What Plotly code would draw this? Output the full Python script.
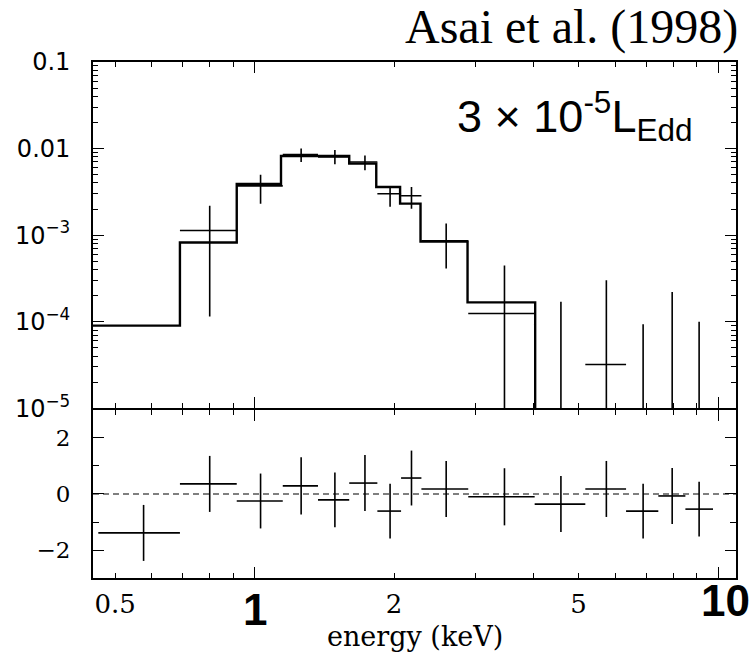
import math
import plotly.graph_objects as go
from plotly.subplots import make_subplots

# ---------------- data ----------------
# energy bins (keV)
bin_lo = [0.46, 0.69, 0.915, 1.15, 1.37, 1.60, 1.84, 2.07, 2.29, 2.89, 4.02, 5.17, 6.33, 7.43, 8.50]
bin_hi = [0.69, 0.915, 1.15, 1.37, 1.60, 1.84, 2.07, 2.29, 2.89, 4.02, 5.17, 6.33, 7.43, 8.50, 9.75]
bin_center = [0.576, 0.80, 1.03, 1.26, 1.49, 1.73, 1.96, 2.18, 2.59, 3.46, 4.58, 5.74, 6.89, 7.96, 9.10]

# model (step histogram), counts/s/keV
model_edges = [0.44, 0.69, 0.915, 1.14, 1.60, 1.83, 2.06, 2.28, 2.88, 4.03, 11.0]
model_flux = [9.0e-5, 8.2e-4, 3.9e-3, 8.2e-3, 6.7e-3, 3.6e-3, 2.31e-3, 8.4e-4, 1.67e-4, 1e-7]

# observed spectrum (bins 2..15); None = below the plotted range
flux = [1.13e-3, 3.7e-3, 8.5e-3, 8.0e-3, 7.0e-3, 3.0e-3, 2.85e-3, 8.6e-4, 1.24e-4,
        None, 3.2e-5, None, None, None]
flux_hi = [2.19e-3, 4.97e-3, 1.0e-2, 9.6e-3, 8.3e-3, 3.7e-3, 3.6e-3, 1.36e-3, 4.45e-4,
           1.7e-4, 3.0e-4, 9.3e-5, 2.2e-4, 1.0e-4]
flux_lo = [1.15e-4, 2.3e-3, 7.0e-3, 6.6e-3, 5.6e-3, 2.13e-3, 2.02e-3, 4.1e-4, None,
           None, None, None, None, None]

# residuals (sigma)
resid = [-1.39, 0.36, -0.25, 0.29, -0.21, 0.39, -0.61, 0.57, 0.18, -0.10, -0.36, 0.18, -0.61, -0.07, -0.54]
resid_err = [1.0, 1.0, 0.98, 1.02, 0.98, 1.0, 0.98, 0.98, 1.0, 1.02, 1.0, 1.0, 0.98, 1.0, 0.98]

# axis ticks
x_minor_ticks = [0.5, 0.6, 0.7, 0.8, 0.9, 2, 3, 4, 5, 6, 7, 8, 9]
x_minor_text = ["0.5", "", "", "", "", "2", "", "", "5", "", "", "", ""]
x_major_ticks = [1, 10]
y_decades = [1e-5, 1e-4, 1e-3, 1e-2, 1e-1]
y_decade_text = ["10<sup>−5</sup>", "10<sup>−4</sup>", "10<sup>−3</sup>", "0.01", "0.1"]
y_minor_ticks = [m * d for d in [1e-5, 1e-4, 1e-3, 1e-2] for m in range(2, 10)]
r_major_ticks = [-2, 0, 2]
r_minor_ticks = [-3, -1, 1, 3]

FLOOR = 1e-8  # below the plotted range (error bar runs off the bottom)

# ---------------- build figure ----------------
fig = make_subplots(rows=2, cols=1, shared_xaxes=True, vertical_spacing=0,
                    row_heights=[0.674, 0.326])

# model histogram
fig.add_trace(go.Scatter(x=model_edges, y=model_flux + [model_flux[-1]], mode="lines",
                         line=dict(shape="hv", color="black", width=2.4),
                         hoverinfo="skip", showlegend=False), row=1, col=1)

# data crosses
xs, ys = [], []
for lo, hi, c, v, eh, el in zip(bin_lo[1:], bin_hi[1:], bin_center[1:], flux, flux_hi, flux_lo):
    if v is not None:
        xs += [lo, hi, None]
        ys += [v, v, None]
    xs += [c, c, None]
    ys += [el if el is not None else FLOOR, eh, None]
fig.add_trace(go.Scatter(x=xs, y=ys, mode="lines", line=dict(color="black", width=1.6),
                         hoverinfo="skip", showlegend=False, connectgaps=False), row=1, col=1)

# residual crosses
rx, ry = [], []
for lo, hi, c, v, e in zip(bin_lo, bin_hi, bin_center, resid, resid_err):
    rx += [lo, hi, None, c, c, None]
    ry += [v, v, None, v - e, v + e, None]
fig.add_trace(go.Scatter(x=rx, y=ry, mode="lines", line=dict(color="black", width=1.6),
                         hoverinfo="skip", showlegend=False, connectgaps=False), row=2, col=1)

fig.add_hline(y=0, row=2, col=1, line=dict(color="black", width=1.2, dash="6px,4px"))

# ---------------- axes ----------------
LW = 1.8
common = dict(showline=True, linewidth=LW, linecolor="black", mirror="allticks",
              ticks="inside", tickcolor="black", tickwidth=1.4, showgrid=False,
              zeroline=False)

xr = [math.log10(0.448), math.log10(10.93)]
for r in (1, 2):
    fig.update_xaxes(type="log", range=xr, tickmode="array", tickvals=x_minor_ticks,
                     ticktext=x_minor_text, ticklen=5,
                     minor=dict(tickmode="array", tickvals=x_major_ticks, ticklen=11,
                                ticks="inside", tickcolor="black", tickwidth=1.4),
                     showticklabels=(r == 2),
                     tickfont=dict(family="DejaVu Serif", size=26, color="black"),
                     ticklabelstandoff=2, row=r, col=1, **common)

fig.update_yaxes(type="log", range=[-5, -1], tickmode="array", tickvals=y_decades,
                 ticktext=y_decade_text, ticklen=11,
                 minor=dict(tickmode="array", tickvals=y_minor_ticks, ticklen=5,
                            ticks="inside", tickcolor="black", tickwidth=1.4),
                 tickfont=dict(family="DejaVu Sans", size=24, color="black"),
                 ticklabelstandoff=16, domain=[0.3256 + LW / 516, 1.0],
                 row=1, col=1, **common)

fig.update_yaxes(range=[-3, 3], tickmode="array", tickvals=r_major_ticks,
                 ticktext=["−2", "0", "2"], ticklen=11,
                 minor=dict(tickmode="array", tickvals=r_minor_ticks, ticklen=6,
                            ticks="inside", tickcolor="black", tickwidth=1.4),
                 tickfont=dict(family="DejaVu Serif", size=23, color="black"),
                 ticklabelstandoff=16, domain=[0.0, 0.3256], row=2, col=1, **common)

# ---------------- text ----------------
ann = [
    dict(text="Asai et al. (1998)", x=1.006, y=1.068, xanchor="right", yanchor="middle",
         font=dict(family="Liberation Serif", size=48, color="black")),
    dict(text="3 × 10<sup>-5</sup>L<sub>Edd</sub>", x=0.935, y=0.895, xanchor="right",
         yanchor="middle", font=dict(family="Liberation Sans", size=45, color="black")),
    dict(text="<b>1</b>", x=0.2527, y=-0.062, xanchor="center", yanchor="middle",
         font=dict(family="Liberation Sans", size=44, color="black")),
    dict(text="<b>10</b>", x=0.983, y=-0.043, xanchor="center", yanchor="middle",
         font=dict(family="Liberation Sans", size=44, color="black")),
    dict(text="energy (keV)", x=0.5008, y=-0.114, xanchor="center", yanchor="middle",
         font=dict(family="DejaVu Serif", size=27, color="black")),
]
for a in ann:
    fig.add_annotation(xref="paper", yref="paper", showarrow=False, **a)

fig.update_layout(width=749, height=654, margin=dict(l=93, r=11, t=62, b=76),
                  paper_bgcolor="white", plot_bgcolor="white", showlegend=False)

fig.write_html("out.html", config={"displayModeBar": False},
               post_script="document.body.style.margin='0';document.body.style.overflow='hidden';")
